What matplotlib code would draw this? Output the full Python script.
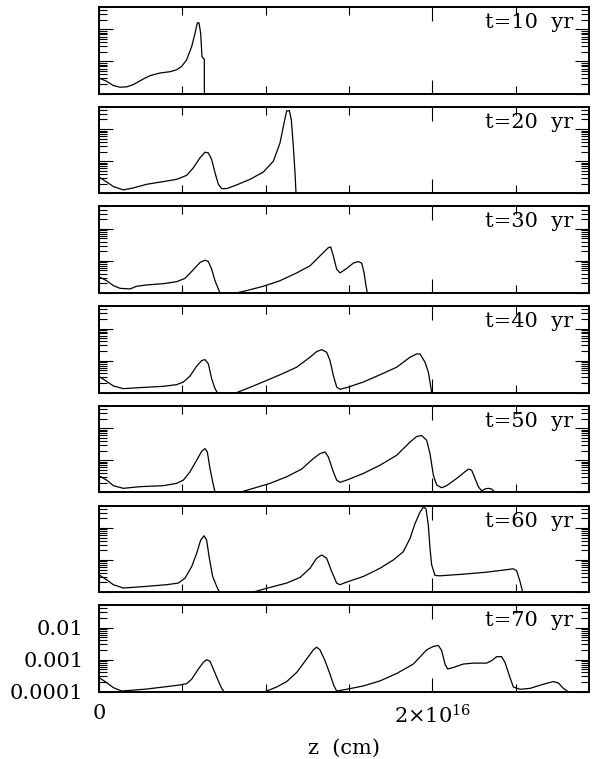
import matplotlib
matplotlib.use("Agg")
import matplotlib.pyplot as plt
from matplotlib.ticker import LogLocator, MultipleLocator, FixedLocator, NullFormatter
import numpy as np

plt.rcParams['font.family'] = ['DejaVu Serif']
plt.rcParams['mathtext.fontset'] = 'dejavuserif'

# z in units of 1e16 cm, density-like quantity on log scale
z_t10 = [0.0, 0.046, 0.086, 0.126, 0.166, 0.206, 0.266, 0.306, 0.366, 0.426, 0.466, 0.496,
         0.526, 0.556, 0.576, 0.590, 0.600, 0.610, 0.618, 0.624, 0.632, 0.633]
v_t10 = [3.05e-4, 2.4e-4, 1.77e-4, 1.57e-4, 1.61e-4, 1.9e-4, 2.84e-4, 3.6e-4, 4.36e-4, 4.79e-4,
         5.5e-4, 7.0e-4, 1.13e-3, 2.9e-3, 7.5e-3, 1.6e-2, 1.6e-2, 7.5e-3, 1.43e-3, 1.27e-3,
         1.18e-3, 1e-6]

z_t20 = [0.0, 0.046, 0.086, 0.146, 0.206, 0.286, 0.386, 0.466, 0.526, 0.566, 0.606, 0.636,
         0.656, 0.676, 0.696, 0.716, 0.736, 0.766, 0.826, 0.906, 0.986, 1.046, 1.086, 1.110,
         1.126, 1.142, 1.154, 1.166, 1.176, 1.182, 1.183]
v_t20 = [3.2e-4, 2.24e-4, 1.61e-4, 1.27e-4, 1.46e-4, 1.9e-4, 2.3e-4, 2.71e-4, 3.6e-4, 6.2e-4,
         1.27e-3, 1.9e-3, 1.81e-3, 1.13e-3, 4.36e-4, 1.9e-4, 1.39e-4, 1.39e-4, 1.81e-4, 2.71e-4,
         4.57e-4, 1.0e-3, 3.69e-3, 1.53e-2, 3.69e-2, 3.78e-2, 1.94e-2, 2.9e-3, 4.4e-4, 1e-4, 1e-6]

z_t30 = [0.0, 0.046, 0.086, 0.126, 0.186, 0.226, 0.286, 0.386, 0.466, 0.516, 0.566, 0.606,
         0.636, 0.656, 0.676, 0.696, 0.716, 0.726, 0.735, 0.80, 0.826, 0.886, 0.986, 1.086,
         1.186, 1.266, 1.326, 1.376, 1.390, 1.406, 1.426, 1.446, 1.486, 1.526, 1.556, 1.576,
         1.590, 1.602, 1.610, 1.611]
v_t30 = [3.2e-4, 2.4e-4, 1.69e-4, 1.39e-4, 1.33e-4, 1.61e-4, 1.77e-4, 1.94e-4, 2.24e-4, 2.84e-4,
         5.3e-4, 8.9e-4, 1.05e-3, 9.5e-4, 5.5e-4, 2.4e-4, 1.33e-4, 1e-4, 3e-5, 3e-5, 1e-4,
         1.18e-4, 1.61e-4, 2.4e-4, 4.2e-4, 7.0e-4, 1.43e-3, 2.58e-3, 2.71e-3, 1.43e-3, 5.5e-4,
         4.2e-4, 5.8e-4, 8.5e-4, 9.5e-4, 8.5e-4, 4.36e-4, 1.69e-4, 1e-4, 1e-6]

z_t40 = [0.0, 0.046, 0.086, 0.146, 0.246, 0.386, 0.466, 0.506, 0.546, 0.586, 0.616, 0.636,
         0.656, 0.676, 0.696, 0.710, 0.72, 0.80, 0.826, 0.926, 1.006, 1.086, 1.186, 1.266,
         1.306, 1.336, 1.366, 1.386, 1.406, 1.426, 1.446, 1.486, 1.586, 1.686, 1.786, 1.866,
         1.906, 1.926, 1.956, 1.976, 1.986, 1.996, 1.997]
v_t40 = [3.2e-4, 2.24e-4, 1.61e-4, 1.33e-4, 1.43e-4, 1.57e-4, 1.77e-4, 2.14e-4, 3.28e-4, 6.7e-4,
         1.0e-3, 1.07e-3, 7.9e-4, 2.71e-4, 1.33e-4, 1e-4, 3e-5, 3e-5, 1e-4, 1.61e-4, 2.4e-4,
         3.6e-4, 6.2e-4, 1.27e-3, 1.9e-3, 2.19e-3, 1.81e-3, 1.0e-3, 3.44e-4, 1.5e-4, 1.27e-4,
         1.43e-4, 2.14e-4, 3.6e-4, 6.2e-4, 1.27e-3, 1.61e-3, 1.61e-3, 8.9e-4, 4.36e-4, 2.14e-4,
         1e-4, 1e-6]

z_t50 = [0.0, 0.046, 0.086, 0.146, 0.246, 0.386, 0.466, 0.506, 0.546, 0.586, 0.616, 0.636,
         0.650, 0.666, 0.682, 0.696, 0.705, 0.82, 0.846, 0.926, 1.026, 1.126, 1.216, 1.286,
         1.326, 1.356, 1.376, 1.406, 1.426, 1.446, 1.486, 1.586, 1.686, 1.786, 1.866, 1.906,
         1.936, 1.966, 1.986, 2.006, 2.026, 2.056, 2.086, 2.146, 2.216, 2.236, 2.256, 2.276,
         2.296, 2.316, 2.336, 2.356, 2.376, 2.377]
v_t50 = [3.28e-4, 2.4e-4, 1.61e-4, 1.33e-4, 1.5e-4, 1.61e-4, 1.9e-4, 2.4e-4, 4.36e-4, 1.0e-3,
         1.9e-3, 2.3e-3, 1.81e-3, 5.5e-4, 2.14e-4, 1e-4, 3e-5, 3e-5, 1e-4, 1.33e-4, 1.9e-4,
         3.05e-4, 5.3e-4, 1.13e-3, 1.61e-3, 1.81e-3, 1.27e-3, 4.36e-4, 2.4e-4, 2.04e-4, 2.4e-4,
         3.87e-4, 7.0e-4, 1.43e-3, 3.69e-3, 5.5e-3, 5.9e-3, 4.2e-3, 1.61e-3, 3.44e-4, 1.69e-4,
         1.39e-4, 1.61e-4, 2.71e-4, 5.3e-4, 4.9e-4, 2.71e-4, 1.5e-4, 1.1e-4, 1.27e-4, 1.33e-4,
         1.27e-4, 1e-4, 1e-6]

z_t60 = [0.0, 0.046, 0.086, 0.146, 0.286, 0.406, 0.476, 0.516, 0.556, 0.586, 0.610, 0.630,
         0.646, 0.662, 0.682, 0.706, 0.722, 0.73, 0.90, 0.926, 1.026, 1.126, 1.206, 1.266,
         1.306, 1.336, 1.366, 1.396, 1.426, 1.446, 1.486, 1.586, 1.686, 1.766, 1.826, 1.866,
         1.896, 1.926, 1.946, 1.962, 1.976, 1.986, 1.996, 2.016, 2.046, 2.186, 2.326, 2.436,
         2.486, 2.506, 2.526, 2.542, 2.543]
v_t60 = [3.44e-4, 2.4e-4, 1.69e-4, 1.33e-4, 1.5e-4, 1.69e-4, 1.9e-4, 2.71e-4, 6.2e-4, 1.61e-3,
         4.16e-3, 5.66e-3, 4.16e-3, 1.13e-3, 3.05e-4, 1.5e-4, 1e-4, 3e-5, 3e-5, 1e-4, 1.39e-4,
         1.9e-4, 2.84e-4, 5.5e-4, 1.13e-3, 1.43e-3, 1.13e-3, 4.36e-4, 1.9e-4, 1.69e-4, 2.04e-4,
         3.05e-4, 5.5e-4, 1.0e-3, 1.81e-3, 4.66e-3, 1.36e-2, 3.1e-2, 4.46e-2, 3.96e-2, 1.21e-2,
         2.3e-3, 7.0e-4, 3.28e-4, 3.2e-4, 3.6e-4, 4.16e-4, 4.9e-4, 5.3e-4, 4.57e-4, 2.14e-4,
         1e-4, 1e-6]

z_t70 = [0.0, 0.046, 0.086, 0.136, 0.286, 0.486, 0.526, 0.556, 0.596, 0.626, 0.646, 0.666,
         0.686, 0.716, 0.736, 0.750, 0.76, 0.97, 0.996, 1.066, 1.126, 1.186, 1.246, 1.286,
         1.306, 1.326, 1.356, 1.386, 1.410, 1.426, 1.486, 1.586, 1.686, 1.786, 1.886, 1.966,
         2.006, 2.036, 2.056, 2.076, 2.092, 2.126, 2.186, 2.246, 2.326, 2.356, 2.386, 2.416,
         2.436, 2.466, 2.486, 2.526, 2.586, 2.666, 2.726, 2.756, 2.786, 2.816, 2.817]
v_t70 = [2.77e-4, 1.92e-4, 1.34e-4, 1.05e-4, 1.21e-4, 1.62e-4, 1.79e-4, 2.45e-4, 5.1e-4, 8.2e-4,
         1.0e-3, 8.9e-4, 5.1e-4, 2.17e-4, 1.27e-4, 1e-4, 3e-5, 3e-5, 1e-4, 1.4e-4, 2.07e-4,
         3.98e-4, 1.05e-3, 2.02e-3, 2.45e-3, 2.02e-3, 9.3e-4, 3.53e-4, 1.51e-4, 1.05e-4, 1.19e-4,
         1.51e-4, 2.17e-4, 3.7e-4, 7.3e-4, 2.02e-3, 2.58e-3, 2.77e-3, 1.92e-3, 7.3e-4, 5.1e-4,
         5.7e-4, 7.3e-4, 7.8e-4, 7.8e-4, 9.3e-4, 1.24e-3, 1.24e-3, 8.2e-4, 2.77e-4, 1.4e-4,
         1.19e-4, 1.27e-4, 1.71e-4, 2.07e-4, 1.88e-4, 1.27e-4, 1e-4, 1e-6]

labels = ['t=10  yr', 't=20  yr', 't=30  yr', 't=40  yr', 't=50  yr', 't=60  yr', 't=70  yr']
zs = [z_t10, z_t20, z_t30, z_t40, z_t50, z_t60, z_t70]
vs = [v_t10, v_t20, v_t30, v_t40, v_t50, v_t60, v_t70]

W, H = 599, 759
fig = plt.figure(figsize=(W / 100, H / 100), dpi=100)

left_px, right_px = 99, 589
panel_h = 86.5
step = 99.7
fs = 15

for i in range(7):
    top = 7 + i * step
    ax = fig.add_axes([left_px / W, 1 - (top + panel_h) / H,
                       (right_px - left_px) / W, panel_h / H])
    ax.plot(zs[i], vs[i], color='black', lw=0.9)
    ax.set_yscale('log')
    ax.set_xlim(0, 2.94)
    ax.set_ylim(1e-4, 0.05)

    ax.xaxis.set_major_locator(FixedLocator([0, 2]))
    ax.xaxis.set_minor_locator(MultipleLocator(0.5))
    ax.yaxis.set_major_locator(LogLocator(base=10, numticks=10))
    ax.yaxis.set_minor_locator(LogLocator(base=10, subs=np.arange(2, 10), numticks=20))
    ax.yaxis.set_minor_formatter(NullFormatter())

    ax.tick_params(which='both', direction='in', top=True, right=True, width=0.8)
    ax.tick_params(which='major', length=10)
    ax.tick_params(which='minor', length=5.5)
    for s in ax.spines.values():
        s.set_linewidth(1.4)

    ax.text(0.968, 0.757, labels[i], transform=ax.transAxes, ha='right', va='baseline',
            fontsize=fs)

    if i == 6:
        ax.set_xticklabels(['0', r'$2{\times}10^{16}$'], fontsize=fs)
        ax.set_yticks([1e-4, 1e-3, 1e-2])
        ax.set_yticklabels(['0.0001', '0.001', '0.01'], fontsize=fs)
        ax.tick_params(axis='x', which='major', pad=9)
        ax.tick_params(axis='y', which='major', pad=11)
        ax.set_xlabel('z  (cm)', fontsize=fs, labelpad=8)
    else:
        ax.set_xticklabels([])
        ax.set_yticklabels([])

fig.savefig('out.png', dpi=100)
